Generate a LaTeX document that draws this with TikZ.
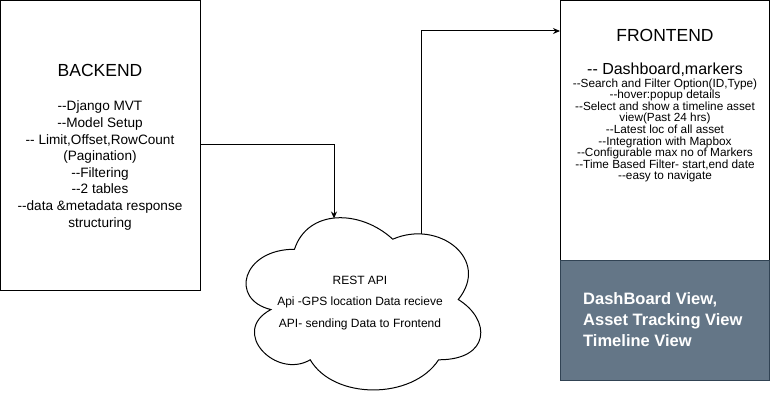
\documentclass[tikz,border=0pt]{standalone}
\usepackage{fontspec}
\setmainfont{Liberation Sans}[Ligatures=TeXOff]
\usetikzlibrary{arrows.meta}
\definecolor{slatefill}{HTML}{647687}
\definecolor{slateline}{HTML}{314354}
\tikzset{
  box/.style={draw=black, line width=1pt, fill=white},
  darkbox/.style={draw=slateline, line width=1pt, fill=slatefill},
  conn/.style={draw=black, line width=1pt},
  arr/.style={conn, -{Stealth[length=7pt,width=6pt]}},
  txt/.style={inner sep=0pt, align=center, text=black},
}
\begin{document}
\begin{tikzpicture}[x=1pt,y=-1pt]
\useasboundingbox (0,0) rectangle (771,401);
% boxes
\draw[box] (0.5,0.5) rectangle (200.5,290) node[pos=0.5, inner sep=0pt] (backend) {};
\draw[box] (560,0.5) rectangle (769.5,260) coordinate (feSE);
\draw[darkbox] (560,260) rectangle (769.5,380);
\coordinate (backright) at (200.5,145);
\coordinate (feleft) at (560,31);
% backend text
\node[txt, font=\fontsize{17.5}{21}\selectfont] (betitle) at (100,70) {BACKEND};
\node[txt, font=\fontsize{13.6}{16.6}\selectfont] (bebody) at (100,165.5) {--Django MVT\\--Model Setup\\-- Limit,Offset,RowCount\\(Pagination)\\--Filtering\\--2 tables\\--data \&metadata response\\structuring};
% frontend text
\node[txt, font=\fontsize{17.5}{21}\selectfont] (fetitle) at (665,35) {FRONTEND};
\node[txt, font=\fontsize{16}{19}\selectfont] (fedash) at (665,70) {-- Dashboard,markers};
\node[txt, font=\fontsize{11.8}{11.6}\selectfont] (febody) at (665,130.5) {--Search and Filter Option(ID,Type)\\--hover:popup details\\--Select and show a timeline asset\\view(Past 24 hrs)\\--Latest loc of all asset\\--Integration with Mapbox\\--Configurable max no of Markers\\--Time Based Filter- start,end date\\--easy to navigate};
\node[txt, align=left, anchor=west, text=white, font=\bfseries\fontsize{16.5}{21}\selectfont] (views) at (583,319.5) {DashBoard View,\\Asset Tracking View\\Timeline View};
% cloud
\draw[conn, fill=white] (294.5,249.25)
  .. controls (242.1,249.25) and (229,299.5) .. (270.92,309.55)
  .. controls (229,331.66) and (276.16,379.9) .. (310.22,359.8)
  .. controls (333.8,400) and (412.4,400) .. (438.6,359.8)
  .. controls (491,359.8) and (491,319.6) .. (458.25,299.5)
  .. controls (491,259.3) and (438.6,219.1) .. (392.75,239.2)
  .. controls (360,209.05) and (307.6,209.05) .. (294.5,249.25) -- cycle;
\coordinate (apitop) at (334,218.5);
\coordinate (apiright) at (421,234);
\node[txt, font=\fontsize{12}{21.5}\selectfont] (api) at (360,303) {REST API\\Api -GPS location Data recieve\\API- sending Data to Frontend};
% connectors
\draw[arr] (backright) -| (apitop);
\draw[arr] (apiright) |- (feleft);
\end{tikzpicture}
\end{document}
